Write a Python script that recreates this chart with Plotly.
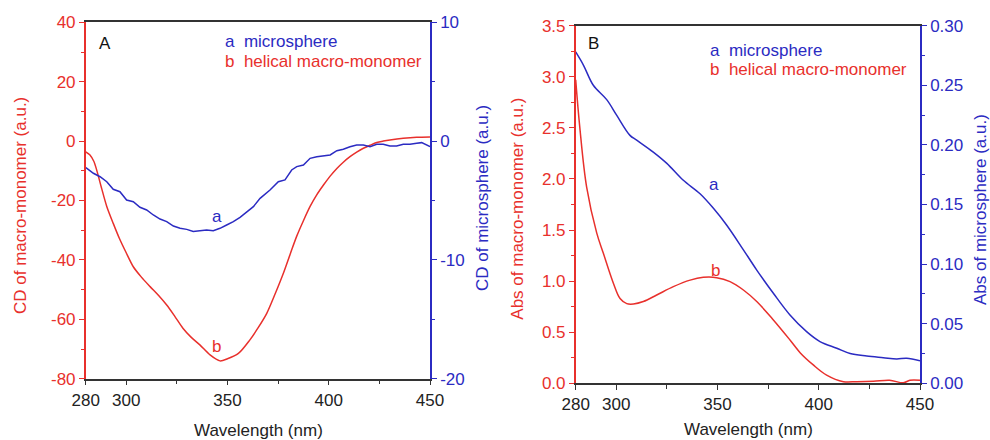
import plotly.graph_objects as go

# ---------------- Panel A (CD) ----------------
a_cd_wl = [280.1, 283.8, 287.1, 290.4, 293.6, 296.9, 300.2, 303.5, 306.8, 310.1, 313.4, 316.7,
           320.0, 323.3, 326.6, 329.9, 333.1, 336.4, 339.7, 343.0, 346.3, 349.6, 352.9, 356.2,
           359.5, 362.8, 366.1, 371.0, 375.1, 378.4, 381.7, 384.2, 387.5, 390.8, 394.1, 397.4,
           400.7, 404.0, 407.2, 410.5, 413.8, 417.1, 420.4, 423.7, 426.9, 430.2, 433.5, 436.8,
           440.1, 443.4, 445.9, 450.0]
a_cd_val = [-2.24, -2.71, -3.0, -3.42, -4.06, -4.26, -4.96, -5.1, -5.57, -5.8, -6.22, -6.56,
            -6.78, -7.15, -7.34, -7.43, -7.6, -7.54, -7.48, -7.54, -7.34, -7.06, -6.78, -6.42,
            -5.94, -5.52, -4.82, -4.12, -3.42, -3.27, -2.43, -2.15, -2.01, -1.45, -1.31, -1.23,
            -1.17, -0.81, -0.69, -0.47, -0.33, -0.33, -0.47, -0.27, -0.27, -0.41, -0.41, -0.27,
            -0.27, -0.19, -0.13, -0.47]

b_cd_wl = [280, 282, 284, 285.4, 287.9, 290.4, 293.6, 296.6, 300, 303.5, 307.5, 311.8, 316, 320,
           324, 328, 332, 336.5, 341.4, 346.3, 350, 355.4, 361, 365, 369.4, 373.5, 377.6, 381,
           384.2, 387.5, 390.8, 394, 397.4, 400.7, 404, 407.2, 410.5, 413.8, 417.1, 420.4, 423.7,
           427, 430.2, 436.8, 443.4, 450]
b_cd_val = [-3.6, -4.6, -6.8, -9.7, -16.0, -22.0, -27.7, -32.7, -37.6, -42.3, -45.8, -49.0,
            -52.0, -55.2, -59.0, -63.0, -66.0, -68.7, -72.0, -74.0, -73.3, -71.5, -67.0, -63.0,
            -58.0, -51.5, -44.5, -38.0, -32.0, -26.8, -22.0, -18.2, -14.8, -11.8, -9.2, -7.1,
            -5.25, -3.7, -2.4, -1.4, -0.5, 0.0, 0.37, 0.94, 1.28, 1.38]

# ---------------- Panel B (Abs) ----------------
a_abs_wl = [280, 283.8, 288.7, 295.3, 300.2, 306.8, 310.1, 318.3, 325, 333, 341.4, 348, 354.5,
            362.8, 369.4, 377.6, 385.8, 394, 400.6, 408.9, 415.5, 423.7, 431.9, 438.5, 443.4, 450]
a_abs_val = [0.278, 0.267, 0.250, 0.238, 0.225, 0.208, 0.204, 0.194, 0.1845, 0.1705, 0.159,
             0.1468, 0.1328, 0.112, 0.095, 0.0755, 0.0573, 0.0433, 0.035, 0.0294, 0.025,
             0.0229, 0.0215, 0.0204, 0.021, 0.019]

b_abs_wl = [280, 282, 285.4, 290.4, 293.7, 298.6, 301.9, 305.2, 308.5, 313.4, 320, 328.2, 336.5,
            343, 349.6, 356.2, 362.8, 369.4, 377.6, 385.8, 390.8, 397.3, 403.9, 412.2, 418.7,
            427, 435, 441.8, 445, 450]
b_abs_val = [2.97, 2.51, 1.92, 1.47, 1.27, 0.98, 0.83, 0.78, 0.776, 0.80, 0.864, 0.946, 1.01,
             1.037, 1.034, 0.995, 0.913, 0.80, 0.62, 0.424, 0.30, 0.18, 0.08, 0.016, 0.016,
             0.02, 0.03, 0.005, 0.03, 0.03]

x_tickvals = [280, 300, 350, 400, 450]
x_minor = [325, 375, 425]
a_left_ticks = [-80, -60, -40, -20, 0, 20, 40]
a_right_ticks = [-20, -10, 0, 10]
b_left_ticks = [0, 0.5, 1.0, 1.5, 2.0, 2.5, 3.0, 3.5]
b_right_ticks = [0, 0.05, 0.10, 0.15, 0.20, 0.25, 0.30]

RED = "#e8302c"
BLUE = "#2b2bc2"
AXG = "#333333"
FONT = "Arial, Liberation Sans, sans-serif"
FS = 17

W, H = 990, 440
def px(x):
    return x / W
def py(y):
    return 1 - y / H

fig = go.Figure()
fig.add_trace(go.Scatter(x=b_cd_wl, y=b_cd_val, mode="lines",
                         line=dict(color=RED, width=1.5, shape="spline", smoothing=0.8),
                         xaxis="x", yaxis="y", showlegend=False))
fig.add_trace(go.Scatter(x=a_cd_wl, y=a_cd_val, mode="lines", line=dict(color=BLUE, width=1.5),
                         xaxis="x", yaxis="y2", showlegend=False))
fig.add_trace(go.Scatter(x=b_abs_wl, y=b_abs_val, mode="lines", line=dict(color=RED, width=1.5, shape="spline"),
                         xaxis="x2", yaxis="y3", showlegend=False))
fig.add_trace(go.Scatter(x=a_abs_wl, y=a_abs_val, mode="lines", line=dict(color=BLUE, width=1.5, shape="spline"),
                         xaxis="x2", yaxis="y4", showlegend=False))

xcommon = dict(range=[280, 450], tickvals=x_tickvals, ticks="outside", ticklen=5, tickwidth=1.2,
               tickcolor=AXG, showline=True, linecolor=AXG, linewidth=1.5, mirror=True,
               showgrid=False, zeroline=False, tickfont=dict(family=FONT, size=FS, color="#222"),
               minor=dict(tickvals=x_minor, ticks="outside", ticklen=4, tickcolor=AXG))

def ycommon(color, rng, tickvals, ticktext, minor_dtick, side="left"):
    return dict(range=rng, tickvals=tickvals, ticktext=ticktext, ticks="outside", ticklen=5,
                tickwidth=1.2, tickcolor=color, showline=True, linecolor=color, linewidth=1.5,
                showgrid=False, zeroline=False, tickfont=dict(family=FONT, size=FS, color=color),
                side=side, minor=dict(dtick=minor_dtick, ticks="outside", ticklen=3, tickcolor=color))

domA_x = [px(85.7), px(430)]
domA_y = [py(378.7), py(22.3)]
domB_x = [px(575.7), px(920)]
domB_y = [py(383.3), py(25.7)]

fig.update_layout(
    width=W, height=H, margin=dict(l=0, r=0, t=0, b=0, autoexpand=False),
    paper_bgcolor="white", plot_bgcolor="white",
    font=dict(family=FONT, size=FS),
    xaxis=dict(domain=domA_x, anchor="y", **xcommon),
    xaxis2=dict(domain=domB_x, anchor="y3", **xcommon),
    yaxis=dict(domain=domA_y, anchor="x",
               **ycommon(RED, [-80, 40], a_left_ticks, [str(v) for v in a_left_ticks], 10)),
    yaxis2=dict(domain=domA_y, anchor="x", overlaying="y",
                **ycommon(BLUE, [-20, 10], a_right_ticks, [str(v) for v in a_right_ticks], 5, side="right")),
    yaxis3=dict(domain=domB_y, anchor="x2",
                **ycommon(RED, [0, 3.5], b_left_ticks, ["%.1f" % v for v in b_left_ticks], 0.25)),
    yaxis4=dict(domain=domB_y, anchor="x2", overlaying="y3",
                **ycommon(BLUE, [0, 0.30], b_right_ticks, ["%.2f" % v for v in b_right_ticks], 0.025, side="right")),
)

ann = []
def add(text, x, y, color, angle=0, xanchor="center"):
    ann.append(dict(text=text, x=px(x), y=py(y), xref="paper", yref="paper", showarrow=False,
                    xanchor=xanchor, yanchor="middle", textangle=angle,
                    font=dict(family=FONT, size=FS, color=color)))

NB = "\u00a0\u00a0"
# Panel A
add("A", 105, 44, "#111")
add("a" + NB + "microsphere", 222.7, 41.7, BLUE, xanchor="left")
add("b" + NB + "helical macro-monomer", 222.7, 61.7, RED, xanchor="left")
add("a", 216.7, 216.7, BLUE)
add("b", 216.7, 346.7, RED)
add("CD of macro-monomer (a.u.)", 20, 206, RED, angle=-90)
add("CD of microsphere (a.u.)", 483, 198, BLUE, angle=-90)
add("Wavelength (nm)", 258.8, 430, "#222")
# Panel B
add("B", 593.3, 43.3, "#111")
add("a" + NB + "microsphere", 708.3, 50, BLUE, xanchor="left")
add("b" + NB + "helical macro-monomer", 708.3, 70, RED, xanchor="left")
add("a", 714.3, 184, BLUE)
add("b", 715, 270.7, RED)
add("Abs of macro-monomer (a.u.)", 516.7, 209, RED, angle=-90)
add("Abs of microsphere (a.u.)", 980, 210, BLUE, angle=-90)
add("Wavelength (nm)", 748.3, 429, "#222")

fig.update_layout(annotations=ann)
fig.write_html("out.html", config={"displayModeBar": False},
               post_script="document.body.style.margin='0';document.body.style.overflow='hidden';")
